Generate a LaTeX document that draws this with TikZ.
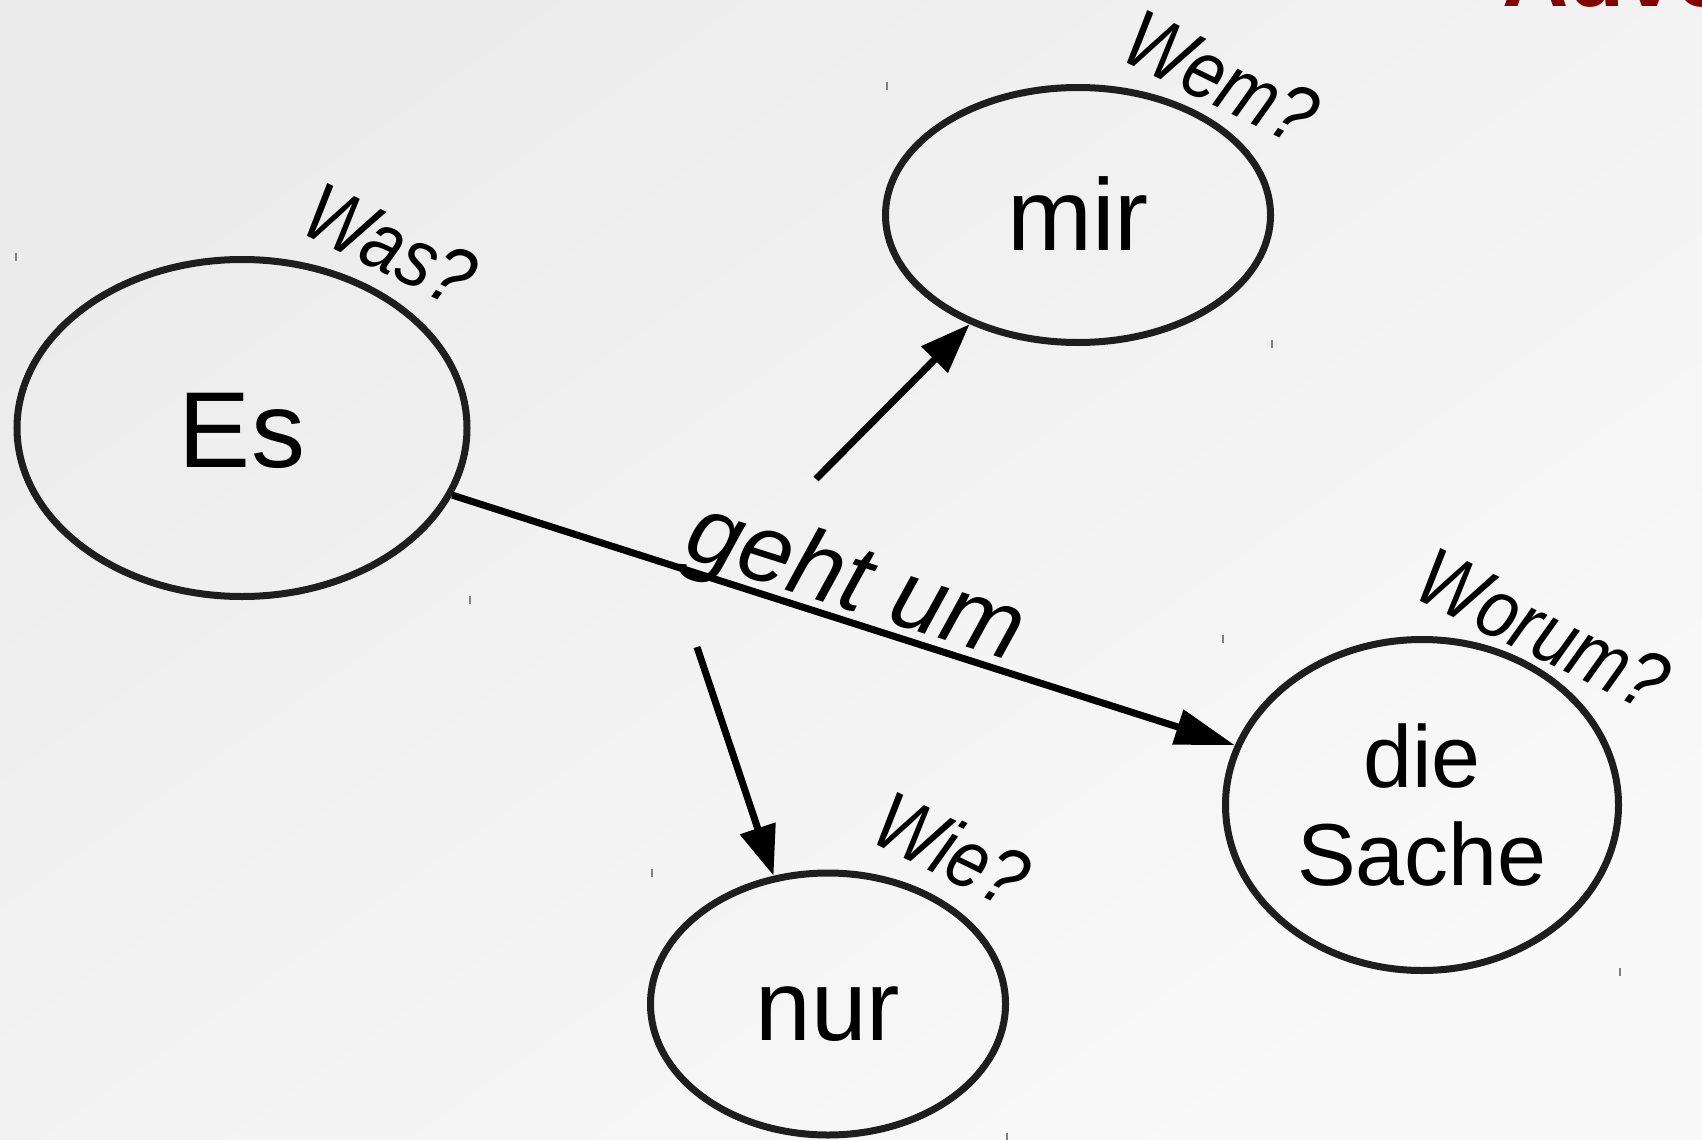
\documentclass[tikz,border=0pt]{standalone}
\usepackage{fontspec}
\setmainfont{Liberation Sans}
\newfontfamily\qfont[FakeStretch=0.86]{Liberation Sans}
\usetikzlibrary{shapes.geometric,arrows.meta}
\definecolor{bgA}{RGB}{236,236,236}
\definecolor{bgB}{RGB}{249,249,249}
\definecolor{ink}{RGB}{30,30,30}
\definecolor{titlered}{RGB}{130,0,0}
\begin{document}
\begin{tikzpicture}[x=1pt,y=-1pt,
  ell/.style={ellipse, draw=ink, line width=7pt, inner sep=0pt, text=black},
  arr/.style={draw=black, line width=7pt, -{Triangle[length=50pt,width=36pt]}},
  qlabel/.style={font=\qfont\fontsize{82}{90}\selectfont\itshape, inner sep=0pt, rotate=-26},
  tickmark/.style={draw=gray, line width=1.5pt}]
\useasboundingbox (0,0) rectangle (1702,1140);
\clip (0,0) rectangle (1702,1140);
\shade[top color=bgA, bottom color=bgB, shading angle=35] (0,0) rectangle (1702,1140);

% title fragment
\node[anchor=base west, inner sep=0pt, text=titlered, font=\fontsize{92}{100}\selectfont\bfseries] (title) at (1502,7) {Adve};

% ellipses
\node[ell, minimum width=450pt, minimum height=337pt, font=\fontsize{108}{120}\selectfont, text height=78pt, text depth=0pt] (Es) at (242,428) {Es};
\node[ell, minimum width=385pt, minimum height=255pt, font=\fontsize{102}{120}\selectfont, text height=70pt, text depth=0pt] (mir) at (1078,215) {mir};
\node[ell, minimum width=393pt, minimum height=331pt, align=center, font=\fontsize{88}{98}\selectfont] (Sache) at (1422,805) {die\\Sache};
\node[ell, minimum width=355pt, minimum height=262pt, font=\fontsize{100}{120}\selectfont, text height=72pt, text depth=0pt] (nur) at (828,1004) {nur};

% question labels
\node[qlabel] (was) at (390,245) {Was?};
\node[qlabel] (wem) at (1221,78) {Wem?};
\node[qlabel] (worum) at (1543,630) {Worum?};
\node[qlabel] (wie) at (952,849) {Wie?};

% connectors
\coordinate (mirfrom) at (816,479);
\coordinate (nurfrom) at (697,647);
\draw[arr, -{Triangle[length=60pt,width=35pt]}] (Es) -- node[sloped, pos=0.5, above=-12pt, inner sep=0pt, font=\fontsize{96}{100}\selectfont\itshape] (gehtum) {geht um} (Sache);
\draw[arr] (mirfrom) -- (mir);
\draw[arr] (nurfrom) -- (nur.113);

% small handle marks
\foreach \tx/\ty in {16/253, 887/82, 470/596, 1272/340, 1223/635, 652/869, 1620/968, 1007/1133}
  \draw[tickmark] (\tx,\ty) -- ++(0,8);
\end{tikzpicture}
\end{document}
